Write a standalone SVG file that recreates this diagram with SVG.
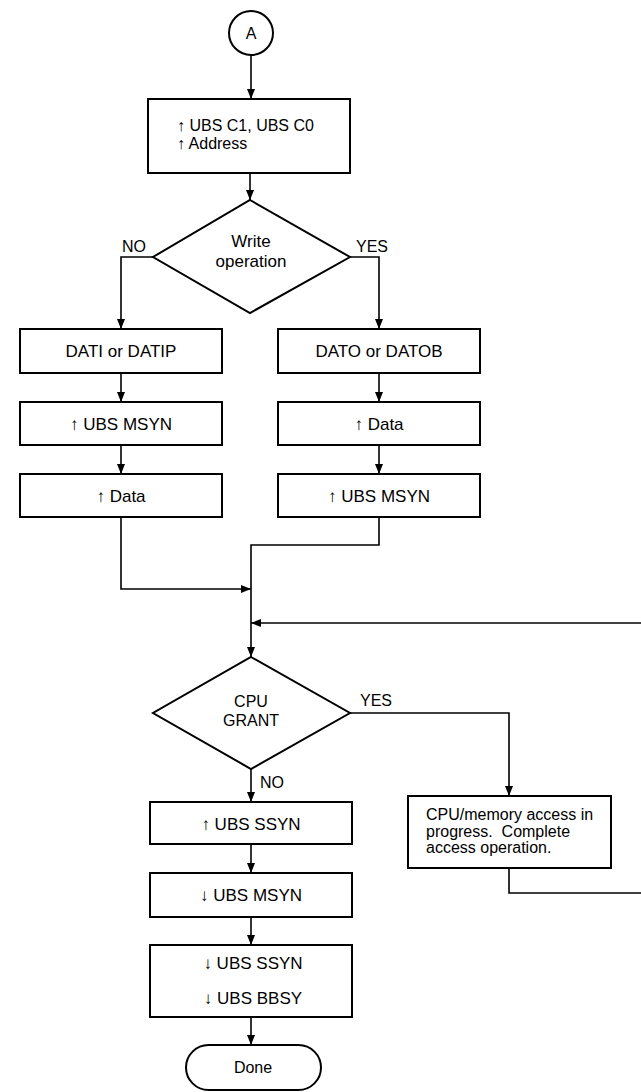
<svg xmlns="http://www.w3.org/2000/svg" width="641" height="1092" viewBox="0 0 641 1092">
<style>
.box{fill:#fff;stroke:#000;stroke-width:2}
.ln{fill:none;stroke:#000;stroke-width:1.6}
.t{font-family:"Liberation Sans",Arial,sans-serif;font-size:16px;fill:#000}
.m{text-anchor:middle}
.b{font-size:17px}
</style>
<defs>
<marker id="ah" markerWidth="10" markerHeight="10" refX="10" refY="5" orient="auto" markerUnits="userSpaceOnUse" viewBox="0 0 10 10">
<path d="M0,1 L10,5 L0,9 Z" fill="#000"/>
</marker>
</defs>
<rect width="641" height="1092" fill="#fff"/>
<g id="connectors">
<path class="ln" d="M251,55 V99" marker-end="url(#ah)"/>
<path class="ln" d="M250,173 V200" marker-end="url(#ah)"/>
<path class="ln" d="M153,257 H121 V329" marker-end="url(#ah)"/>
<path class="ln" d="M350,257 H379 V329" marker-end="url(#ah)"/>
<path class="ln" d="M121,373 V402" marker-end="url(#ah)"/>
<path class="ln" d="M121,445 V474" marker-end="url(#ah)"/>
<path class="ln" d="M379,373 V402" marker-end="url(#ah)"/>
<path class="ln" d="M379,445 V474" marker-end="url(#ah)"/>
<path class="ln" d="M121,517 V589 H251" marker-end="url(#ah)"/>
<path class="ln" d="M379,517 V545 H251 V657" marker-end="url(#ah)"/>
<path class="ln" d="M641,623 H251" marker-end="url(#ah)"/>
<path class="ln" d="M350,713 H509 V796" marker-end="url(#ah)"/>
<path class="ln" d="M509,868 V893 H641"/>
<path class="ln" d="M251,769 V802" marker-end="url(#ah)"/>
<path class="ln" d="M251,844 V873" marker-end="url(#ah)"/>
<path class="ln" d="M251,917 V945" marker-end="url(#ah)"/>
<path class="ln" d="M251,1017 V1045" marker-end="url(#ah)"/>
</g>
<g id="start">
<circle cx="251" cy="33" r="22" class="box"/>
<text class="t m" x="251" y="39">A</text>
</g>
<g id="addr">
<rect class="box" x="148" y="99" width="202" height="74"/>
<text class="t" x="177" y="131">↑ UBS C1, UBS C0</text>
<text class="t" x="177" y="149">↑ Address</text>
</g>
<g id="write">
<polygon class="box" points="250,200 350,257 250,313 153,257"/>
<text class="t m b" x="251" y="247">Write</text>
<text class="t m b" x="251" y="267">operation</text>
</g>
<g id="labels1">
<text class="t" x="122" y="252">NO</text>
<text class="t" x="356" y="252">YES</text>
</g>
<g id="dati">
<rect class="box" x="20" y="329" width="202" height="44"/>
<text class="t m b" x="121" y="357">DATI or DATIP</text>
</g>
<g id="msynL">
<rect class="box" x="20" y="402" width="202" height="43"/>
<text class="t m b" x="121" y="430">↑ UBS MSYN</text>
</g>
<g id="dataL">
<rect class="box" x="20" y="474" width="202" height="43"/>
<text class="t m b" x="121" y="502">↑ Data</text>
</g>
<g id="dato">
<rect class="box" x="278" y="329" width="202" height="44"/>
<text class="t m b" x="379" y="357">DATO or DATOB</text>
</g>
<g id="dataR">
<rect class="box" x="278" y="402" width="202" height="43"/>
<text class="t m b" x="379" y="430">↑ Data</text>
</g>
<g id="msynR">
<rect class="box" x="278" y="474" width="202" height="43"/>
<text class="t m b" x="379" y="502">↑ UBS MSYN</text>
</g>
<g id="grant">
<polygon class="box" points="251,657 350,713 251,769 153,713"/>
<text class="t m" x="251" y="707">CPU</text>
<text class="t m" x="251" y="726">GRANT</text>
</g>
<g id="labels2">
<text class="t" x="360" y="706">YES</text>
<text class="t" x="260" y="788">NO</text>
</g>
<g id="cpu">
<rect class="box" x="408" y="796" width="203" height="72"/>
<text class="t" x="426" y="820">CPU/memory access in</text>
<text class="t" x="426" y="837" xml:space="preserve">progress.  Complete</text>
<text class="t" x="426" y="853">access operation.</text>
</g>
<g id="ssynUp">
<rect class="box" x="150" y="802" width="202" height="42"/>
<text class="t m b" x="251" y="830">↑ UBS SSYN</text>
</g>
<g id="msynDn">
<rect class="box" x="150" y="873" width="202" height="44"/>
<text class="t m b" x="251" y="901">↓ UBS MSYN</text>
</g>
<g id="release">
<rect class="box" x="150" y="945" width="202" height="72"/>
<text class="t m b" x="253" y="969">↓ UBS SSYN</text>
<text class="t m b" x="253" y="1004">↓ UBS BBSY</text>
</g>
<g id="done">
<rect class="box" x="186" y="1045" width="135" height="45" rx="22.5"/>
<text class="t m" x="253" y="1073">Done</text>
</g>
</svg>
